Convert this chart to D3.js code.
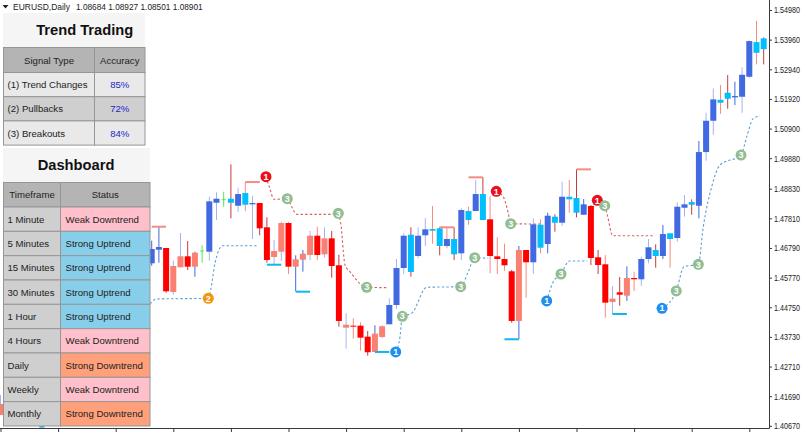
<!DOCTYPE html>
<html>
<head>
<meta charset="utf-8">
<script src="https://cdn.jsdelivr.net/npm/d3@7"></script>
<style>
html, body { margin: 0; padding: 0; background: #fff; overflow: hidden; }
svg { display: block; }
text { font-family: "Liberation Sans", Arial, sans-serif; }
</style>
</head>
<body>
<svg id="chart" width="802" height="432"></svg>
<script>
// ---- price data ----
var barIndex = [-21].concat(d3.range(86));
var opens = [1.41422,
  1.46262,1.46730,1.46789,1.46170,1.46503,1.46503,1.46627,1.46696,1.46662,1.48347,
  1.48464,1.48347,1.48244,1.48278,1.48292,1.48337,1.47501,1.46686,1.47649,1.47649,
  1.46400,1.46593,1.47212,1.47212,1.47122,1.47122,1.46194,1.44150,1.44116,1.44116,
  1.43738,1.43841,1.44095,1.44164,1.44828,1.46101,1.45963,1.46514,1.47226,1.47384,
  1.46858,1.46858,1.46572,1.46606,1.47752,1.48062,1.47752,1.47776,1.46503,1.46410,
  1.45987,1.46720,1.46720,1.46297,1.46799,1.46926,1.47659,1.47659,1.48464,1.48003,
  1.47934,1.48234,1.46469,1.46228,1.45045,1.45265,1.45757,1.45757,1.45712,1.46410,
  1.46514,1.46514,1.47098,1.47133,1.48175,1.48278,1.48244,1.50091,1.51168,1.51787,
  1.51925,1.51973,1.51994,1.52682,1.53507,1.53634];
var highs = [1.41732,
  1.47040,1.47535,1.46789,1.46352,1.47305,1.47030,1.46662,1.46882,1.48554,1.48705,
  1.48726,1.49668,1.48863,1.49059,1.48578,1.48337,1.47845,1.47064,1.47694,1.47683,
  1.46538,1.46720,1.47374,1.47522,1.47501,1.47374,1.46558,1.44542,1.44370,1.44233,
  1.43934,1.44130,1.44140,1.45058,1.46410,1.47294,1.47501,1.47501,1.47810,1.48234,
  1.47501,1.47501,1.47501,1.48154,1.48210,1.49128,1.49221,1.48578,1.47157,1.46937,
  1.46032,1.46858,1.46720,1.47810,1.47776,1.48003,1.47948,1.49070,1.49128,1.49496,
  1.48474,1.48268,1.46720,1.46548,1.45482,1.45791,1.46159,1.45974,1.46490,1.47098,
  1.46916,1.47580,1.47294,1.48361,1.48612,1.48464,1.50470,1.51443,1.52282,1.52396,
  1.52740,1.52510,1.53005,1.53934,1.54608,1.54037];
var lows = [1.41044,
  1.46180,1.46283,1.45251,1.45182,1.46125,1.46032,1.45802,1.46283,1.46352,1.47752,
  1.48210,1.47810,1.48027,1.48062,1.47098,1.47226,1.46283,1.46204,1.46342,1.45894,
  1.45299,1.45974,1.46376,1.46376,1.46469,1.45767,1.44082,1.43325,1.43669,1.43256,
  1.43084,1.43211,1.43682,1.44164,1.44690,1.45894,1.45802,1.46434,1.46858,1.46937,
  1.46538,1.46778,1.46376,1.46376,1.47590,1.48062,1.47752,1.45918,1.45894,1.46008,
  1.44219,1.43648,1.45079,1.45894,1.46606,1.46606,1.47350,1.47546,1.48003,1.47845,
  1.47934,1.46204,1.45894,1.44391,1.44518,1.44804,1.44966,1.45310,1.45492,1.46262,
  1.46111,1.46410,1.46111,1.47006,1.47866,1.47934,1.47810,1.49792,1.50686,1.51409,
  1.51581,1.51708,1.51443,1.52647,1.53108,1.53108];
var closes = [1.41044,
  1.46754,1.46823,1.45299,1.45275,1.46125,1.46146,1.46146,1.46702,1.48395,1.48485,
  1.48470,1.48485,1.48646,1.48681,1.48337,1.47466,1.46376,1.46479,1.46662,1.46146,
  1.46146,1.46386,1.46548,1.46548,1.46572,1.46170,1.44278,1.44047,1.44082,1.43703,
  1.43201,1.43211,1.43727,1.44828,1.46101,1.47212,1.47246,1.47212,1.47432,1.47442,
  1.47466,1.47098,1.47098,1.48096,1.48062,1.48646,1.48646,1.46514,1.46410,1.46194,
  1.44278,1.44278,1.46297,1.47604,1.47590,1.47900,1.47866,1.48554,1.48554,1.48509,
  1.48292,1.46445,1.46204,1.44907,1.44931,1.45182,1.45148,1.45712,1.46410,1.46813,
  1.46720,1.47270,1.47294,1.48210,1.48292,1.48371,1.50091,1.51168,1.51904,1.51890,
  1.52131,1.52018,1.52750,1.53910,1.53875,1.54002];
// B strong up, C weak up, R strong down, S weak down, G doji
var bodyKinds = "S" + "BBRSSRSGBB" + "GCBCBRRSSR" + "SSSRSRRSRR" + "RSSBBBCBBC" + "CBCBCBCRRR" + "RSRBCBCBCC" + "BRRRSRSRBB" + "CBCBBCBBBC" + "CBBBCC";
// b dark blue, l light blue, r dark red, s salmon, g green
var wickKinds = "l" + "bbrllrbgll" + "grlslrrlls" + "bblslrrlss" + "rbllllrlls" + "rsrlslrsss" + "rbslsbrlsr" + "brrslrbsll" + "rbsllrblls" + "rbllsr";

var priceTicks = [1.54980,1.53960,1.52940,1.51920,1.50900,1.49880,1.48830,1.47810,1.46790,1.45770,1.44750,1.43730,1.42710,1.41690,1.40670];
var timeTicks = d3.range(-21, 86, 8);

// support / resistance stubs
var levelFrom = [0,13,40,44,59,-22,16,20,31,49,64,-15.6];
var levelTo = [2,15,42,46,61,-21.4,18,22,33,51,66,-14.9];
var levelPrice = [1.47522,1.49059,1.47501,1.49221,1.49496,1.42306,1.46214,1.45286,1.43211,1.43648,1.44518,1.40640];
var levelKind = ["res","res","res","res","res","res","sup","sup","sup","sup","sup","sup"];

// dotted trailing lines
var trailDown = [
  [[15.87,1.49242],[16.33,1.48898],[16.99,1.48464],[18.83,1.48485],[19.44,1.48210],[20.14,1.47948],[25.92,1.47948],[26.25,1.47638],[26.85,1.46204],[27.54,1.45974],[29.86,1.45437],[32.86,1.45423]],
  [[47.86,1.48739],[48.83,1.48554],[49.53,1.47982],[49.86,1.47625],[53.93,1.47614]],
  [[61.89,1.48430],[62.92,1.48244],[63.28,1.47924],[64.03,1.47212],[69.67,1.47212]]
];
var trailUp = [
  [[-0.24,1.44862],[0.69,1.45034],[7.86,1.45058],[8.19,1.45344],[8.79,1.46262],[9.86,1.46868],[14.67,1.46868]],
  [[33.89,1.43211],[34.49,1.43738],[34.81,1.44439],[36.11,1.44542],[38.19,1.45437],[42.92,1.45458],[43.97,1.45974],[44.86,1.46455],[46.75,1.46434]],
  [[54.86,1.44966],[55.78,1.45630],[56.85,1.45894],[58.00,1.46342],[60.50,1.46342]],
  [[70.88,1.44714],[72.86,1.45310],[73.93,1.46146],[75.92,1.46228],[76.61,1.47522],[77.78,1.48898],[78.93,1.49644],[81.85,1.49988],[82.64,1.50618],[83.56,1.51250],[84.49,1.51330]]
];

// numbered signal badges
var signalIndex = [15.87,47.86,61.89,33.89,54.86,70.88,7.86,18.83,25.92,29.86,34.81,42.92,44.86,49.86,56.85,62.92,72.86,75.92,81.85];
var signalPrice = [1.49242,1.48739,1.48430,1.43211,1.44966,1.44714,1.45058,1.48485,1.47982,1.45437,1.44439,1.45458,1.46455,1.47625,1.45894,1.48244,1.45310,1.46228,1.49988];
var signalLabel = ["1","1","1","1","1","1","2","3","3","3","3","3","3","3","3","3","3","3","3"];
var signalColor = ["#e8101c","#e8101c","#e8101c","#1e8ff0","#1e8ff0","#1e8ff0","#f0960f","#92bd92","#92bd92","#92bd92","#92bd92","#92bd92","#92bd92","#92bd92","#92bd92","#92bd92","#92bd92","#92bd92","#92bd92"];

// tables
var signalTypes = ["(1) Trend Changes","(2) Pullbacks","(3) Breakouts"];
var accuracy = ["85%","72%","84%"];
var timeframes = ["1 Minute","5 Minutes","15 Minutes","30 Minutes","1 Hour","4 Hours","Daily","Weekly","Monthly"];
var statuses = ["Weak Downtrend","Strong Uptrend","Strong Uptrend","Strong Uptrend","Strong Uptrend","Weak Downtrend","Strong Downtrend","Weak Downtrend","Strong Downtrend"];

var bodyColor = {B:"#4169e1", C:"#00bfff", R:"#ff0000", S:"#fa8072", G:"#4fe84f"};
var wickColor = {b:"#4169e1", l:"#a3b5ee", r:"#c83a3a", s:"#fa8a7e", g:"#4fe84f"};
var statusColor = {"Weak Downtrend":"#ffc0cb", "Strong Uptrend":"#87ceeb", "Strong Downtrend":"#ffa07a"};

var svg = d3.select("#chart");

var x = d3.scaleLinear().domain([0, 85]).range([151.7, 763.7]);
var y = d3.scaleLinear().domain([1.40670, 1.54980]).range([425.8, 10]);

// axes
svg.append("g")
  .attr("transform", "translate(769,0)")
  .call(d3.axisRight(y).tickValues(priceTicks).tickSize(3).tickPadding(2).tickFormat(d3.format(".5f")))
  .call(function(g){
    g.select(".domain").attr("d", "M0.5,0V428.5").attr("stroke", "#3a3a3a");
    g.selectAll(".tick line").attr("stroke", "#3a3a3a");
    // narrowed sideways so that all seven digits fit before the window edge
    g.selectAll("text")
      .attr("x", 0)
      .attr("transform", "translate(5,0) scale(0.8,1)")
      .attr("font-size", 9)
      .attr("fill", "#222")
      .style("font-family", '"Liberation Sans", Arial, sans-serif');
  });

svg.append("g")
  .attr("transform", "translate(0,428)")
  .call(d3.axisBottom(x).tickValues(timeTicks).tickSize(4).tickFormat(""))
  .call(function(g){
    g.select(".domain").attr("d", "M0,0.5H769.5").attr("stroke", "#3a3a3a");
    g.selectAll(".tick line").attr("stroke", "#3a3a3a");
  });

// trailing lines
var trail = d3.line()
  .x(function(d){ return x(d[0]); })
  .y(function(d){ return y(d[1]); })
  .curve(d3.curveMonotoneX);

svg.append("g").selectAll("path")
  .data(trailDown)
  .enter()
  .append("path")
  .attr("d", trail)
  .attr("fill", "none")
  .attr("stroke", "#d2605f")
  .attr("stroke-width", 1.1)
  .attr("stroke-dasharray", "2.4,2.2");

svg.append("g").selectAll("path")
  .data(trailUp)
  .enter()
  .append("path")
  .attr("d", trail)
  .attr("fill", "none")
  .attr("stroke", "#5a9fd6")
  .attr("stroke-width", 1.1)
  .attr("stroke-dasharray", "2.4,2.2");

// candles
var bars = svg.append("g");

bars.selectAll("line")
  .data(barIndex)
  .enter()
  .append("line")
  .attr("x1", function(d){ return x(d); })
  .attr("x2", function(d){ return x(d); })
  .attr("y1", function(d,i){ return y(highs[i]); })
  .attr("y2", function(d,i){ return y(lows[i]); })
  .attr("stroke", function(d,i){ return wickColor[wickKinds[i]]; })
  .attr("stroke-width", 1);

bars.selectAll("rect")
  .data(barIndex)
  .enter()
  .append("rect")
  .attr("x", function(d,i){ return x(d) - (bodyKinds[i] == "G" ? 2 : 3); })
  .attr("y", function(d,i){ return y(Math.max(opens[i], closes[i])); })
  .attr("width", function(d,i){ return bodyKinds[i] == "G" ? 4 : 6; })
  .attr("height", function(d,i){ return Math.max(1, Math.abs(y(opens[i]) - y(closes[i]))); })
  .attr("fill", function(d,i){ return bodyColor[bodyKinds[i]]; });

// level stubs
svg.append("g").selectAll("line")
  .data(levelFrom)
  .enter()
  .append("line")
  .attr("x1", function(d){ return x(d); })
  .attr("x2", function(d,i){ return x(levelTo[i]); })
  .attr("y1", function(d,i){ return y(levelPrice[i]); })
  .attr("y2", function(d,i){ return y(levelPrice[i]); })
  .attr("stroke", function(d,i){ return levelKind[i] == "res" ? "#f28d83" : "#14b4ee"; })
  .attr("stroke-width", 2);

// signal badges
var badges = svg.append("g").selectAll("g")
  .data(signalIndex)
  .enter()
  .append("g")
  .attr("transform", function(d,i){ return "translate(" + x(d) + "," + y(signalPrice[i]) + ")"; });

badges.append("circle")
  .attr("r", 5.5)
  .attr("fill", function(d,i){ return signalColor[i]; });

badges.append("text")
  .attr("text-anchor", "middle")
  .attr("y", 3.2)
  .attr("font-size", 9)
  .attr("font-weight", "bold")
  .attr("fill", "#fff")
  .text(function(d,i){ return signalLabel[i]; });

// header line
svg.append("path").attr("d", "M2.5,5H8.5L5.5,8.5Z").attr("fill", "#222");
svg.append("text").attr("x", 13).attr("y", 10).attr("font-size", 9).attr("fill", "#222")
  .attr("textLength", 57).attr("lengthAdjust", "spacingAndGlyphs").text("EURUSD,Daily");
svg.append("text").attr("x", 76).attr("y", 10).attr("font-size", 9).attr("fill", "#222")
  .attr("textLength", 126.7).attr("lengthAdjust", "spacingAndGlyphs").text("1.08684 1.08927 1.08501 1.08901");

// tables
function panel(px, py, w, h, title, tx){
  svg.append("rect").attr("x", px).attr("y", py).attr("width", w).attr("height", h).attr("fill", "#f5f5f5");
  svg.append("text").attr("x", tx).attr("y", py + h/2 + 5.3).attr("text-anchor", "middle")
    .attr("font-size", 14.7).attr("font-weight", "bold").attr("fill", "#111").text(title);
}

function cell(px, py, w, h, fill, label, opt){
  opt = opt || {};
  svg.append("rect").attr("x", px).attr("y", py).attr("width", w).attr("height", h)
    .attr("fill", fill).attr("stroke", "#969696").attr("stroke-width", 1);
  svg.append("text")
    .attr("x", opt.center ? px + w/2 : px + (opt.pad || 4))
    .attr("y", py + h/2 + 3.5)
    .attr("text-anchor", opt.center ? "middle" : "start")
    .attr("font-size", 9.6)
    .attr("fill", opt.color || "#222")
    .text(label);
}

panel(3, 13, 142, 34, "Trend Trading", 84.7);
cell(3.5, 47.5, 91, 25, "#b4b4b4", "Signal Type", {center:true});
cell(94.5, 47.5, 50.5, 25, "#b4b4b4", "Accuracy", {center:true});
signalTypes.forEach(function(d,i){
  var fill = i == 1 ? "#cfcfcf" : "#e9e9e9";
  cell(3.5, 72.5 + i*24.2, 91, 24.2, fill, d);
  cell(94.5, 72.5 + i*24.2, 50.5, 24.2, fill, accuracy[i], {center:true, color:"#2424c8"});
});

panel(3, 148, 147, 34, "Dashboard", 76);
cell(3.5, 182.5, 57, 24.5, "#b4b4b4", "Timeframe", {center:true});
cell(60.5, 182.5, 89.5, 24.5, "#b4b4b4", "Status", {center:true});
timeframes.forEach(function(d,i){
  cell(3.5, 207 + i*24.33, 57, 24.33, "#cfcfcf", d);
  cell(60.5, 207 + i*24.33, 89.5, 24.33, statusColor[statuses[i]], statuses[i], {pad:5});
});
</script>
</body>
</html>
